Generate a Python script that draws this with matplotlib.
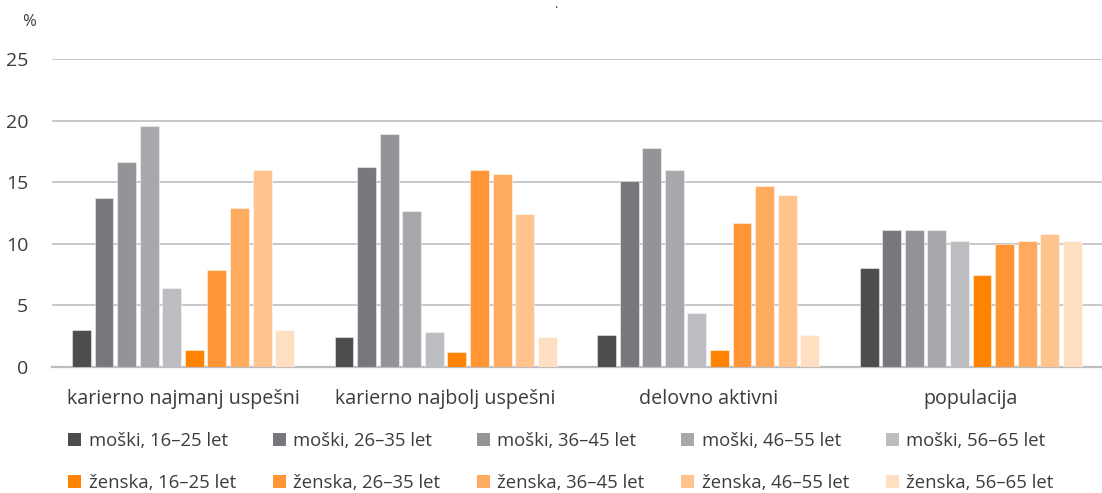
import numpy as np
import matplotlib.pyplot as plt
from matplotlib.patches import Patch

plt.rcParams["font.family"] = ["Open Sans", "DejaVu Sans"]

# Data (%)
categories = ["karierno najmanj uspešni", "karierno najbolj uspešni",
              "delovno aktivni", "populacija"]
series_labels = [
    "moški, 16–25 let", "moški, 26–35 let", "moški, 36–45 let",
    "moški, 46–55 let", "moški, 56–65 let",
    "ženska, 16–25 let", "ženska, 26–35 let", "ženska, 36–45 let",
    "ženska, 46–55 let", "ženska, 56–65 let",
]
moski_16_25 = [3.0, 2.4, 2.6, 8.0]
moski_26_35 = [13.7, 16.2, 15.1, 11.1]
moski_36_45 = [16.6, 18.9, 17.8, 11.1]
moski_46_55 = [19.6, 12.7, 16.0, 11.1]
moski_56_65 = [6.4, 2.8, 4.4, 10.2]
zenska_16_25 = [1.4, 1.2, 1.4, 7.5]
zenska_26_35 = [7.9, 16.0, 11.7, 10.0]
zenska_36_45 = [12.9, 15.7, 14.7, 10.2]
zenska_46_55 = [16.0, 12.4, 14.0, 10.8]
zenska_56_65 = [3.0, 2.4, 2.6, 10.2]
series_values = [moski_16_25, moski_26_35, moski_36_45, moski_46_55, moski_56_65,
                 zenska_16_25, zenska_26_35, zenska_36_45, zenska_46_55, zenska_56_65]
y_ticks = [0, 5, 10, 15, 20, 25]

colors = ["#4d4d4f", "#77787b", "#939497", "#a7a8ab", "#bcbdc0",
          "#ff8300", "#ff9535", "#ffab5f", "#ffc38e", "#ffdfc1"]

fig = plt.figure(figsize=(11.02, 4.93), dpi=100)
ax = fig.add_axes([0.047, 0.2556, 0.953, 0.6247])

x = np.arange(len(categories))
n = len(series_values)
step = 0.086
width = 0.072
for i, (vals, col) in enumerate(zip(series_values, colors)):
    offset = (i - (n - 1) / 2) * step
    ax.bar(x + offset, vals, width=width, color=col,
           edgecolor=(1, 1, 1, 0.45), linewidth=0.8, zorder=3)

ax.set_xlim(-0.5, len(categories) - 0.5)
ax.set_ylim(0, 25)
ax.set_yticks(y_ticks)
ax.set_xticks(x)
ax.set_xticklabels(categories)
ax.yaxis.grid(True, color="#c8c8cb", linewidth=1.4, zorder=0)
ax.set_axisbelow(True)
for side in ["top", "right", "left"]:
    ax.spines[side].set_visible(False)
ax.spines["bottom"].set_color("#bdbdc0")
ax.spines["bottom"].set_linewidth(1.6)
ax.tick_params(axis="both", length=0, labelsize=14, colors="#3c3c3c")
ax.tick_params(axis="x", labelsize=14.2, pad=16)
ax.tick_params(axis="y", pad=17)

fig.text(0.020, 0.955, "%", fontsize=12, color="#3c3c3c", ha="left", va="center")
fig.text(0.504, 0.99, ".", fontsize=9, color="#3c3c3c", ha="center", va="center")

# legend: interleave so rows are men / women
handles = [Patch(facecolor=c, edgecolor="none") for c in colors]
order = []
for k in range(5):
    order += [k, k + 5]
fig.legend([handles[k] for k in order], [series_labels[k] for k in order],
           ncol=5, loc="lower left", bbox_to_anchor=(0.047, -0.031),
           frameon=False, fontsize=13.3, handlelength=0.7, handleheight=0.7,
           handletextpad=0.4, columnspacing=2.0, labelspacing=1.27,
           labelcolor="#3c3c3c")

fig.savefig("out.png", dpi=100)
